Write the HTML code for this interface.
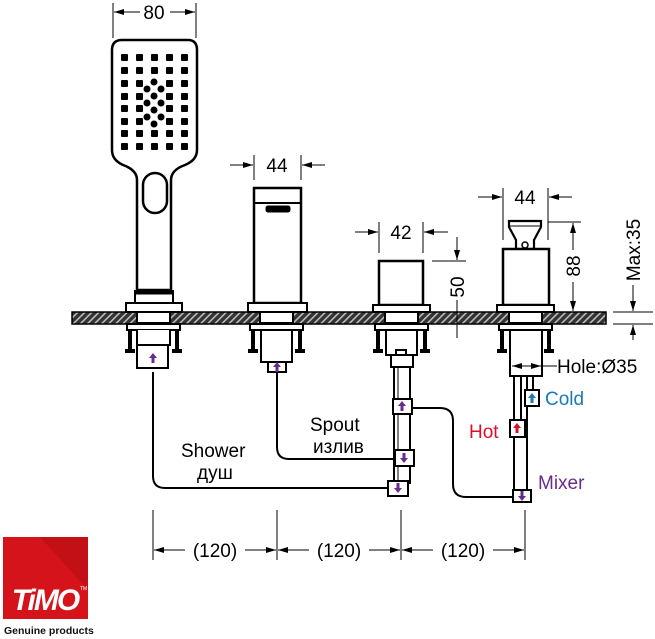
<!DOCTYPE html>
<html><head><meta charset="utf-8"><style>
html,body{margin:0;padding:0;background:#fff;}
svg{display:block;font-family:"Liberation Sans",Arial,sans-serif;}
</style></head><body>
<svg width="655" height="639" viewBox="0 0 655 639" xmlns="http://www.w3.org/2000/svg">
<defs>
<marker id="a" viewBox="0 0 10 6" refX="10" refY="3" markerWidth="10" markerHeight="6" orient="auto" markerUnits="userSpaceOnUse"><path d="M0,0L10,3L0,6z" fill="#000"/></marker>
<pattern id="h" width="5" height="5" patternUnits="userSpaceOnUse" patternTransform="rotate(45)"><rect width="5" height="5" fill="#333"/><rect width="1.6" height="5" fill="#bbb"/></pattern>
<g id="pa"><path d="M0,-5L4,0H1.5V5H-1.5V0H-4z" fill="#6a2c8c"/></g>
</defs>
<g stroke="#000" fill="none" stroke-width="1">
<!-- counter -->
<rect x="72" y="312" width="534" height="12" fill="url(#h)" stroke="#000" stroke-width="1.5"/>

<!-- hand shower -->
<path d="M122,40H188Q197,40 197,50V150Q197,160 185,165Q171,170 171,180V290H137V180Q137,170 123,165Q112,160 112,150V50Q112,40 122,40Z" stroke-width="2.5" fill="#fff"/>
<rect x="143" y="173" width="24" height="40" rx="12" stroke-width="2.5"/>
<g fill="#000" stroke="none">
<rect x="121" y="54" width="7" height="7" rx="1"/><rect x="136" y="54" width="7" height="7" rx="1"/><rect x="151" y="54" width="7" height="7" rx="1"/><rect x="166" y="54" width="7" height="7" rx="1"/><rect x="181" y="54" width="7" height="7" rx="1"/>
<rect x="121" y="67" width="7" height="7" rx="1"/><rect x="136" y="67" width="7" height="7" rx="1"/><rect x="151" y="67" width="7" height="7" rx="1"/><rect x="166" y="67" width="7" height="7" rx="1"/><rect x="181" y="67" width="7" height="7" rx="1"/>
<rect x="121" y="80" width="7" height="7" rx="1"/><rect x="136" y="80" width="7" height="7" rx="1"/><rect x="166" y="80" width="7" height="7" rx="1"/><rect x="181" y="80" width="7" height="7" rx="1"/>
<rect x="121" y="93" width="7" height="7" rx="1"/><rect x="136" y="93" width="7" height="7" rx="1"/><rect x="166" y="93" width="7" height="7" rx="1"/><rect x="181" y="93" width="7" height="7" rx="1"/>
<rect x="121" y="105" width="7" height="7" rx="1"/><rect x="136" y="105" width="7" height="7" rx="1"/><rect x="166" y="105" width="7" height="7" rx="1"/><rect x="181" y="105" width="7" height="7" rx="1"/>
<rect x="121" y="118" width="7" height="7" rx="1"/><rect x="136" y="118" width="7" height="7" rx="1"/><rect x="166" y="118" width="7" height="7" rx="1"/><rect x="181" y="118" width="7" height="7" rx="1"/>
<rect x="121" y="130" width="7" height="7" rx="1"/><rect x="136" y="130" width="7" height="7" rx="1"/><rect x="151" y="130" width="7" height="7" rx="1"/><rect x="166" y="130" width="7" height="7" rx="1"/><rect x="181" y="130" width="7" height="7" rx="1"/>
<rect x="121" y="143" width="7" height="7" rx="1"/><rect x="136" y="143" width="7" height="7" rx="1"/><rect x="151" y="143" width="7" height="7" rx="1"/><rect x="166" y="143" width="7" height="7" rx="1"/><rect x="181" y="143" width="7" height="7" rx="1"/>
<circle cx="154" cy="82" r="3.5"/><circle cx="147" cy="89" r="3.5"/><circle cx="161" cy="89" r="3.5"/><circle cx="154" cy="96" r="3.5"/><circle cx="147" cy="103" r="3.5"/><circle cx="161" cy="103" r="3.5"/><circle cx="154" cy="110" r="3.5"/><circle cx="147" cy="117" r="3.5"/><circle cx="161" cy="117" r="3.5"/><circle cx="154" cy="124" r="3.5"/>
</g>
<rect x="135" y="291" width="38" height="12" stroke-width="2" fill="#fff"/>
<line x1="136" y1="293" x2="172" y2="293" stroke-width="3"/>
<rect x="126" y="303" width="56" height="9" stroke-width="2" fill="#fff"/>
<line x1="113" y1="3" x2="113" y2="38"/><line x1="196" y1="3" x2="196" y2="38"/>
<line x1="140" y1="12" x2="114" y2="12" marker-end="url(#a)"/><line x1="170" y1="12" x2="195" y2="12" marker-end="url(#a)"/>

<!-- spout -->
<rect x="254" y="188" width="47" height="115" stroke-width="2.5" fill="#fff"/>
<line x1="254" y1="203" x2="301" y2="203" stroke-width="2"/>
<rect x="266" y="206" width="24" height="6" fill="#000" rx="2"/>
<rect x="248" y="303" width="59" height="9" stroke-width="2" fill="#fff"/>
<line x1="254" y1="155" x2="254" y2="180"/><line x1="301" y1="155" x2="301" y2="180"/>
<line x1="230" y1="165" x2="253" y2="165" marker-end="url(#a)"/><line x1="325" y1="165" x2="302" y2="165" marker-end="url(#a)"/>

<!-- diverter -->
<rect x="379" y="261" width="44" height="44" stroke-width="2.5" fill="#fff"/>
<rect x="373" y="305" width="57" height="7" stroke-width="2" fill="#fff"/>
<line x1="379" y1="222" x2="379" y2="253"/><line x1="423" y1="222" x2="423" y2="253"/>
<line x1="355" y1="232" x2="378" y2="232" marker-end="url(#a)"/><line x1="448" y1="232" x2="424" y2="232" marker-end="url(#a)"/>
<line x1="432" y1="261" x2="466" y2="261"/>
<line x1="457" y1="237" x2="457" y2="260" marker-end="url(#a)"/>
<line x1="457" y1="300" x2="457" y2="338"/>

<!-- mixer -->
<path d="M509,221H541L541,227L534,240V249H516V240L509,227Z" stroke-width="2.2" fill="#fff"/>
<line x1="510" y1="226" x2="540" y2="226"/>
<circle cx="525" cy="245" r="3" stroke-width="1.5"/>
<rect x="503" y="249" width="46" height="56" stroke-width="2.5" fill="#fff"/>
<rect x="497" y="305" width="57" height="7" stroke-width="2" fill="#fff"/>
<line x1="503" y1="188" x2="503" y2="240"/><line x1="548" y1="188" x2="548" y2="240"/>
<line x1="478" y1="197" x2="502" y2="197" marker-end="url(#a)"/><line x1="572" y1="197" x2="549" y2="197" marker-end="url(#a)"/>
<line x1="548" y1="222" x2="581" y2="222"/>
<line x1="573" y1="250" x2="573" y2="223" marker-end="url(#a)"/><line x1="573" y1="282" x2="573" y2="311" marker-end="url(#a)"/>
<!-- max 35 -->
<line x1="633" y1="285" x2="633" y2="311" marker-end="url(#a)"/><line x1="633" y1="340" x2="633" y2="325" marker-end="url(#a)"/>
<line x1="613" y1="312" x2="653" y2="312"/><line x1="613" y1="324" x2="653" y2="324"/>

<!-- under counter assemblies -->
<g stroke-width="2">
<!-- shower -->
<rect x="137" y="312" width="33" height="11" fill="#fff"/>
<rect x="127" y="324" width="53" height="6" fill="#fff"/>
<line x1="130" y1="330" x2="130" y2="350" stroke-width="4"/><line x1="177" y1="330" x2="177" y2="350" stroke-width="4"/>
<line x1="125" y1="351" x2="135" y2="351" stroke-width="4"/><line x1="172" y1="351" x2="182" y2="351" stroke-width="4"/>
<path d="M137,330V345H170V330" fill="#fff"/>
<rect x="137" y="345" width="31" height="23" fill="#fff"/>
<!-- spout -->
<rect x="260" y="312" width="33" height="11" fill="#fff"/>
<rect x="250" y="324" width="53" height="6" fill="#fff"/>
<line x1="253" y1="330" x2="253" y2="350" stroke-width="4"/><line x1="300" y1="330" x2="300" y2="350" stroke-width="4"/>
<line x1="248" y1="351" x2="258" y2="351" stroke-width="4"/><line x1="295" y1="351" x2="305" y2="351" stroke-width="4"/>
<rect x="261" y="330" width="31" height="32" fill="#fff"/>
<rect x="268" y="362" width="18" height="10" fill="#fff"/>
<!-- diverter -->
<rect x="385" y="312" width="33" height="11" fill="#fff"/>
<rect x="375" y="324" width="53" height="6" fill="#fff"/>
<line x1="378" y1="330" x2="378" y2="350" stroke-width="4"/><line x1="425" y1="330" x2="425" y2="350" stroke-width="4"/>
<line x1="373" y1="351" x2="383" y2="351" stroke-width="4"/><line x1="420" y1="351" x2="430" y2="351" stroke-width="4"/>
<rect x="386" y="330" width="31" height="25" fill="#fff"/>
<rect x="396" y="350" width="10" height="5" fill="#fff"/>
<rect x="391" y="355" width="22" height="12" fill="#fff"/>
<line x1="394" y1="367" x2="394" y2="484"/><line x1="410" y1="367" x2="410" y2="484"/>
<line x1="398" y1="367" x2="398" y2="480" stroke-width="1"/>
<!-- mixer -->
<rect x="509" y="312" width="33" height="11" fill="#fff"/>
<rect x="499" y="324" width="53" height="6" fill="#fff"/>
<line x1="502" y1="330" x2="502" y2="350" stroke-width="4"/><line x1="549" y1="330" x2="549" y2="350" stroke-width="4"/>
<line x1="497" y1="351" x2="507" y2="351" stroke-width="4"/><line x1="544" y1="351" x2="554" y2="351" stroke-width="4"/>
<rect x="510" y="330" width="32" height="46" fill="#fff"/>
<line x1="514" y1="376" x2="514" y2="492"/><line x1="521" y1="376" x2="521" y2="420"/>
<line x1="527" y1="376" x2="527" y2="492"/><line x1="533" y1="376" x2="533" y2="390"/>
<!-- fittings -->
<rect x="393" y="399" width="19" height="15" fill="#fff"/>
<rect x="395" y="450" width="19" height="16" fill="#fff"/>
<rect x="388" y="481" width="20" height="15" fill="#fff"/>
<rect x="525" y="390" width="14" height="16" fill="#fff"/>
<rect x="510" y="420" width="15" height="17" fill="#fff"/>
<rect x="513" y="490" width="18" height="12" fill="#fff"/>
</g>
<!-- hole dim -->
<line x1="526" y1="366" x2="512" y2="366" marker-end="url(#a)"/><line x1="526" y1="366" x2="541" y2="366" marker-end="url(#a)"/>
<line x1="541" y1="366" x2="557" y2="366"/>

<!-- hoses -->
<path d="M153,372V476Q153,488 165,488H388" stroke-width="2"/>
<path d="M277,372V447Q277,459 289,459H395" stroke-width="2"/>
<path d="M412,408H440Q453,408 453,421V484Q453,497 466,497H513" stroke-width="2"/>

<!-- bottom dims -->
<line x1="153" y1="510" x2="153" y2="560"/><line x1="277" y1="510" x2="277" y2="560"/><line x1="401" y1="510" x2="401" y2="560"/><line x1="525" y1="510" x2="525" y2="560"/>
<line x1="185" y1="550" x2="154" y2="550" marker-end="url(#a)"/><line x1="245" y1="550" x2="276" y2="550" marker-end="url(#a)"/>
<line x1="309" y1="550" x2="278" y2="550" marker-end="url(#a)"/><line x1="369" y1="550" x2="400" y2="550" marker-end="url(#a)"/>
<line x1="433" y1="550" x2="402" y2="550" marker-end="url(#a)"/><line x1="493" y1="550" x2="524" y2="550" marker-end="url(#a)"/>
</g>

<!-- flow arrows -->
<use href="#pa" x="153" y="358"/>
<use href="#pa" x="277" y="367"/>
<use href="#pa" x="402" y="406"/>
<use href="#pa" x="404" y="458" transform="rotate(180 404 458)"/>
<use href="#pa" x="398" y="488" transform="rotate(180 398 488)"/>
<use href="#pa" x="522" y="496" transform="rotate(180 522 496)"/>
<path d="M532,393L536,398H533.5V403H530.5V398H528z" fill="#1a7ab8"/>
<path d="M517,423L521,428H518.5V433H515.5V428H513z" fill="#d8112a"/>

<!-- texts -->
<g font-size="19" fill="#000">
<text x="154" y="19" text-anchor="middle">80</text>
<text x="277" y="172" text-anchor="middle">44</text>
<text x="401" y="239" text-anchor="middle">42</text>
<text x="525" y="204" text-anchor="middle">44</text>
<text transform="translate(464,287) rotate(-90)" text-anchor="middle">50</text>
<text transform="translate(580,266) rotate(-90)" text-anchor="middle">88</text>
<text transform="translate(640,250) rotate(-90)" text-anchor="middle">Max:35</text>
<text x="557" y="373">Hole:Ø35</text>
<text x="215" y="557" text-anchor="middle">(120)</text>
<text x="339" y="557" text-anchor="middle">(120)</text>
<text x="463" y="557" text-anchor="middle">(120)</text>
<text x="181" y="457">Shower</text>
<text x="197" y="479">душ</text>
<text x="310" y="431">Spout</text>
<text x="313" y="453">излив</text>
<text x="469" y="438" fill="#d8112a">Hot</text>
<text x="545" y="405" fill="#1a7ab8">Cold</text>
<text x="538" y="489" fill="#6a2c8c">Mixer</text>
</g>

<!-- logo -->
<rect x="3" y="537" width="85" height="82" fill="#d4131b"/>
<path d="M40,537L88,537L88,590Z" fill="#b80f16" opacity="0.6"/>
<text x="45" y="610" text-anchor="middle" font-size="30" font-weight="bold" font-style="italic" fill="#fff" letter-spacing="-2">TiMO</text>
<text x="80" y="590" font-size="5" fill="#fff">TM</text>
<text x="4" y="634" font-size="10.5" font-weight="bold" fill="#111">Genuine products</text>
</svg>
</body></html>
